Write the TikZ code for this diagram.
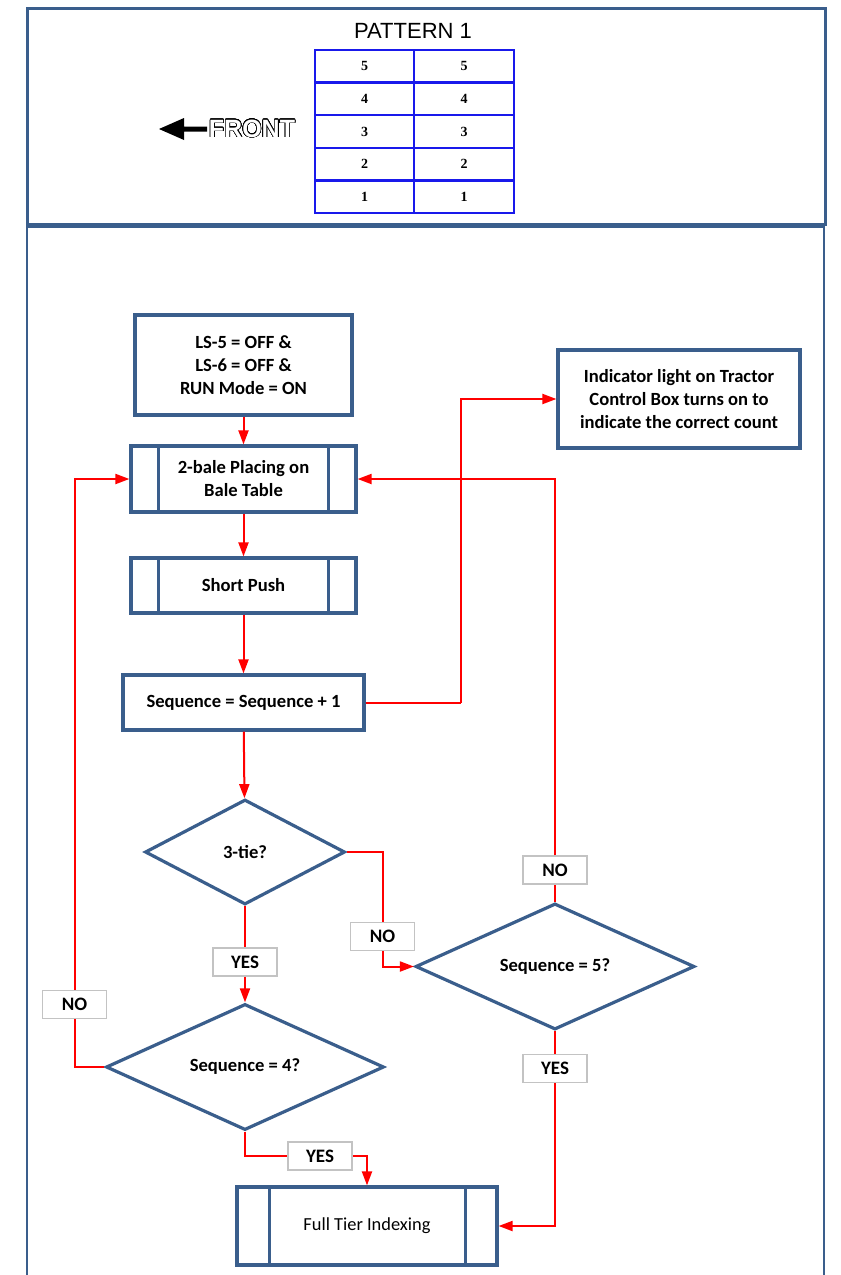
\documentclass[tikz,border=0pt]{standalone}
\usepackage{fontspec}
\setmainfont{Carlito}
\newfontfamily\arialf{Liberation Sans}
\newfontfamily\tnrf{Liberation Serif}
\usepackage{contour}
\contourlength{0.6pt}
\contournumber{32}
\usetikzlibrary{arrows.meta,shapes.geometric}
\definecolor{bord}{RGB}{58,94,140}
\definecolor{tblue}{RGB}{25,25,235}
\definecolor{lgray}{RGB}{195,195,195}
\begin{document}
\begin{tikzpicture}[x=1pt,y=-1pt,
  box/.style={draw=bord,line width=3.2pt,fill=white,align=center,inner sep=0pt,
    font=\bfseries\fontsize{18.6}{23}\selectfont},
  dec/.style={diamond,draw=bord,line width=3.2pt,fill=white,inner sep=0pt,align=center,
    font=\bfseries\fontsize{18.6}{22}\selectfont},
  lbl/.style={draw=lgray,line width=1.5pt,fill=white,minimum width=64pt,minimum height=28pt,
    inner sep=0pt,font=\bfseries\fontsize{19}{22}\selectfont},
  conn/.style={draw=red,line width=2pt,-{Triangle[length=14pt,width=10pt]}},
  line/.style={draw=red,line width=2pt},
  num/.style={font=\tnrf\bfseries\fontsize{14}{16}\selectfont,inner sep=0pt},
  cell/.style={draw=tblue,line width=2.5pt}
]
\useasboundingbox (0,0) rectangle (841,1275);
% frames
\draw[bord,line width=3pt] (27,8) rectangle (825,224);
\draw[bord,line width=2pt] (27,1285) -- (27,227) -- (824,227) -- (824,1285);
% header
\node[font=\arialf\fontsize{22}{24}\selectfont,inner sep=0pt] (title) at (413,31) {PATTERN 1};
\foreach \n [count=\i from 0] in {5,4,3,2,1}{
  \pgfmathsetmacro{\ya}{50+32.6*\i}
  \pgfmathsetmacro{\yb}{50+32.6*(\i+1)}
  \draw[cell] (315,\ya) rectangle (414,\yb);
  \draw[cell] (414,\ya) rectangle (514,\yb);
  \node[num] (l\n) at (364.5,{(\ya+\yb)/2}) {\n};
  \node[num] (r\n) at (464,{(\ya+\yb)/2}) {\n};
}
\fill[black] (159,129) -- (184,118) -- (184,126.5) -- (207,126.5) -- (207,131.5) -- (184,131.5) -- (184,140) -- cycle;
\node[inner sep=0pt,font=\arialf\bfseries\fontsize{25}{28}\selectfont] (front) at (252,129)
  {\textcolor{white}{\contour{black}{FRONT}}};
% flowchart nodes
\node[box,minimum width=217pt,minimum height=100pt] (A) at (243.5,365)
  {LS-5 = OFF \&\\LS-6 = OFF \&\\RUN Mode = ON};
\node[box,minimum width=225pt,minimum height=66pt] (B) at (243.5,479)
  {2-bale Placing on\\Bale Table};
\draw[bord,line width=3.2pt] ([xshift=29pt]B.north west) -- ([xshift=29pt]B.south west)
  ([xshift=-29pt]B.north east) -- ([xshift=-29pt]B.south east);
\node[box,minimum width=225pt,minimum height=55pt] (C) at (243.5,585.5) {Short Push};
\draw[bord,line width=3.2pt] ([xshift=29pt]C.north west) -- ([xshift=29pt]C.south west)
  ([xshift=-29pt]C.north east) -- ([xshift=-29pt]C.south east);
\node[box,minimum width=241pt,minimum height=55pt] (D) at (243.5,702.5) {Sequence = Sequence + 1};
\node[box,minimum width=242pt,minimum height=98pt] (H) at (679,399)
  {Indicator light on Tractor\\Control Box turns on to\\indicate the correct count};
\node[box,minimum width=260pt,minimum height=78pt,font=\fontsize{18.4}{22}\selectfont] (I) at (367,1226)
  {Full Tier Indexing};
\draw[bord,line width=3.2pt] ([xshift=34pt]I.north west) -- ([xshift=34pt]I.south west)
  ([xshift=-33pt]I.north east) -- ([xshift=-33pt]I.south east);
\node[dec,minimum width=200pt,minimum height=105pt] (E) at (245,852) {3-tie?};
\node[dec,minimum width=278pt,minimum height=116pt] (F) at (245,1067) {Sequence = 4?};
\node[dec,minimum width=279pt,minimum height=124pt] (G) at (555,966.5) {Sequence = 5?};
% labels
\node[lbl] (noB) at (555,870) {NO};
\node[lbl] (noA) at (382.5,936.5) {NO};
\node[lbl] (yesA) at (245,962) {YES};
\node[lbl] (noC) at (74.5,1004.5) {NO};
\node[lbl] (yesB) at (320,1156) {YES};
\node[lbl] (yesC) at (555,1068.5) {YES};
\coordinate (k1) at (461,702.5);
% connectors
\draw[conn] (A) -- (B);
\draw[conn] (B) -- (C);
\draw[conn] (C) -- (D);
\draw[line] (D.east) -- (k1);
\draw[conn] (k1) |- (H.west);
\draw[conn] (D) -- (E);
\draw[line] (E.south) -- (yesA.north);
\draw[conn] (yesA.south) -- (F.north);
\draw[line] (E.east) -| (noA.north);
\draw[conn] (noA.south) |- (G.west);
\draw[line] (G.north) -- (noB.south);
\draw[conn] (noB.north) |- (B.east);
\draw[line] (F.west) -| (noC.south);
\draw[conn] (noC.north) |- (B.west);
\draw[line] (F.south) |- (yesB.west);
\draw[conn] (yesB.east) -| (I.north);
\draw[line] (G.south) -- (yesC.north);
\draw[conn] (yesC.south) |- (I.east);
\end{tikzpicture}
\end{document}
